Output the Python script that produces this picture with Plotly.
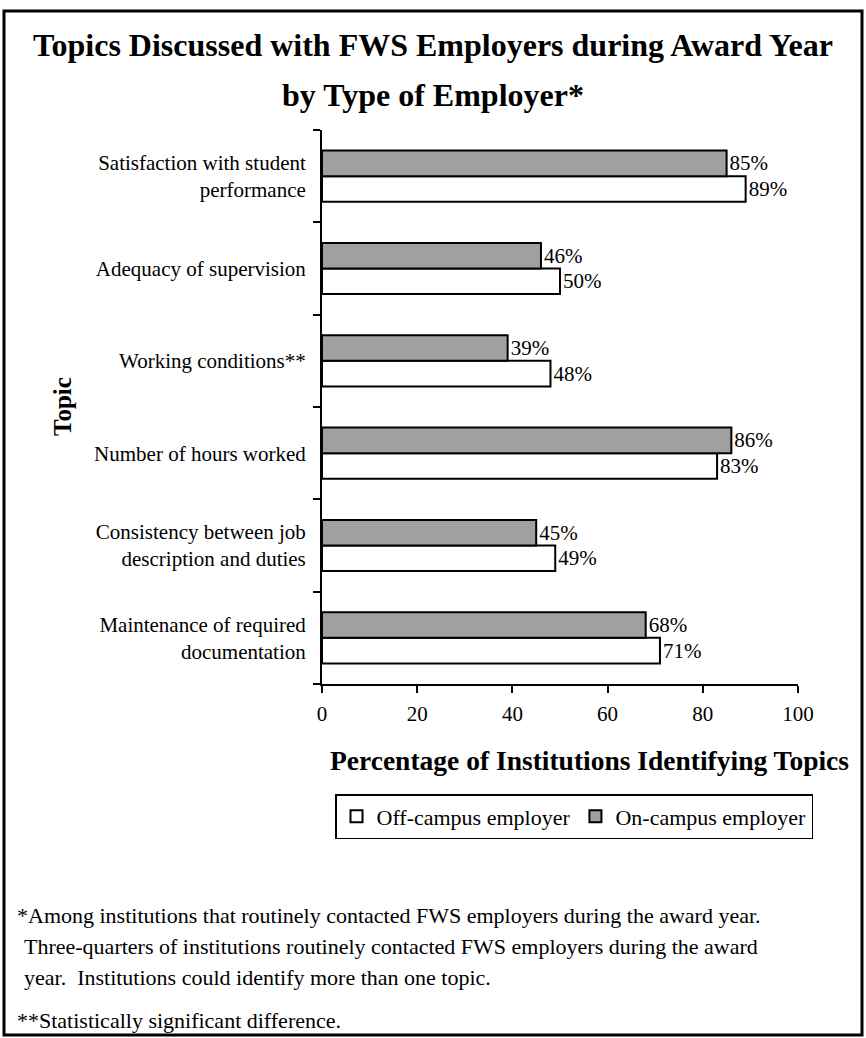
import plotly.graph_objects as go

topics = [
    "Satisfaction with student<br>performance",
    "Adequacy of supervision",
    "Working conditions**",
    "Number of hours worked",
    "Consistency between job<br>description and duties",
    "Maintenance of required<br>documentation",
]
off_campus = [89, 50, 48, 83, 49, 71]
on_campus = [85, 46, 39, 86, 45, 68]
x_ticks = [0, 20, 40, 60, 80, 100]

FONT = "Liberation Serif, Times New Roman, serif"
W, H = 866, 1038
L, R, T, B = 322, 68, 130, 354
PW, PH = W - L - R, H - T - B


def px(x):
    return (x - L) / PW


def py(y):
    return (H - B - y) / PH


fig = go.Figure()
fig.add_trace(go.Bar(
    y=topics, x=off_campus, orientation="h", name="Off-campus employer",
    marker=dict(color="white", line=dict(color="black", width=2)),
    text=[f"{v}%" for v in off_campus], textposition="outside",
    textfont=dict(family=FONT, size=21, color="black"), cliponaxis=False,
))
fig.add_trace(go.Bar(
    y=topics, x=on_campus, orientation="h", name="On-campus employer",
    marker=dict(color="#a0a0a0", line=dict(color="black", width=2)),
    text=[f"{v}%" for v in on_campus], textposition="outside",
    textfont=dict(family=FONT, size=21, color="black"), cliponaxis=False,
))

fig.update_layout(
    width=W, height=H,
    margin=dict(l=L, r=R, t=T, b=B, autoexpand=False),
    paper_bgcolor="white", plot_bgcolor="white",
    font=dict(family=FONT, size=21, color="black"),
    barmode="group", bargap=0.445, bargroupgap=0,
    title=dict(
        text="<b>Topics Discussed with FWS Employers during Award Year</b>",
        x=0.5, xanchor="center", y=1 - 45 / H, yanchor="middle",
        font=dict(family=FONT, size=32, color="black"),
    ),
    xaxis=dict(
        range=[0, 100], tickvals=x_ticks, ticks="outside", ticklen=7, tickwidth=2,
        tickcolor="black", showline=True, linecolor="black", linewidth=2,
        showgrid=False, zeroline=False, ticklabelstandoff=3,
        tickfont=dict(family=FONT, size=21, color="black"),
    ),
    yaxis=dict(
        categoryorder="array", categoryarray=topics[::-1],
        ticks="outside", tickson="boundaries", ticklen=7, tickwidth=2,
        tickcolor="black", showline=True, linecolor="black", linewidth=2,
        showgrid=False, ticklabelstandoff=10,
        tickfont=dict(family=FONT, size=21, color="black"),
    ),
    showlegend=True,
    legend=dict(
        orientation="h", x=px(335), y=py(794), xanchor="left", yanchor="top",
        bordercolor="black", borderwidth=1.5, bgcolor="white",
        font=dict(family=FONT, size=22, color="black"),
        traceorder="normal", itemwidth=30,
    ),
)

annotations = [
    dict(text="<b>by Type of Employer*</b>", x=px(433), y=py(95), font=dict(size=32)),
    dict(text="<b>Percentage of Institutions Identifying Topics</b>", x=px(589), y=py(760),
         font=dict(size=27.5)),
    dict(text="<b>Topic</b>", x=px(62), y=py(407), textangle=-90, font=dict(size=25)),
    dict(text="*Among institutions that routinely contacted FWS employers during the award year.",
         x=px(15), y=py(915), xanchor="left"),
    dict(text="Three-quarters of institutions routinely contacted FWS employers during the award",
         x=px(22), y=py(946), xanchor="left"),
    dict(text="year.  Institutions could identify more than one topic.",
         x=px(22), y=py(977), xanchor="left"),
    dict(text="**Statistically significant difference.",
         x=px(15), y=py(1020), xanchor="left"),
]
for a in annotations:
    base = dict(xref="paper", yref="paper", showarrow=False, yanchor="middle",
                xanchor="center", font=dict(family=FONT, size=22, color="black"))
    f = a.pop("font", None)
    base.update(a)
    if f:
        base["font"] = dict(family=FONT, color="black", **f)
    fig.add_annotation(**base)

fig.add_shape(type="rect", xref="paper", yref="paper",
              x0=px(4), x1=px(862), y0=py(1035), y1=py(11),
              line=dict(color="black", width=3), fillcolor="rgba(0,0,0,0)")

fig.write_html(
    "out.html",
    config={"displayModeBar": False},
    post_script="document.body.style.margin='0';document.body.style.overflow='hidden';",
)
